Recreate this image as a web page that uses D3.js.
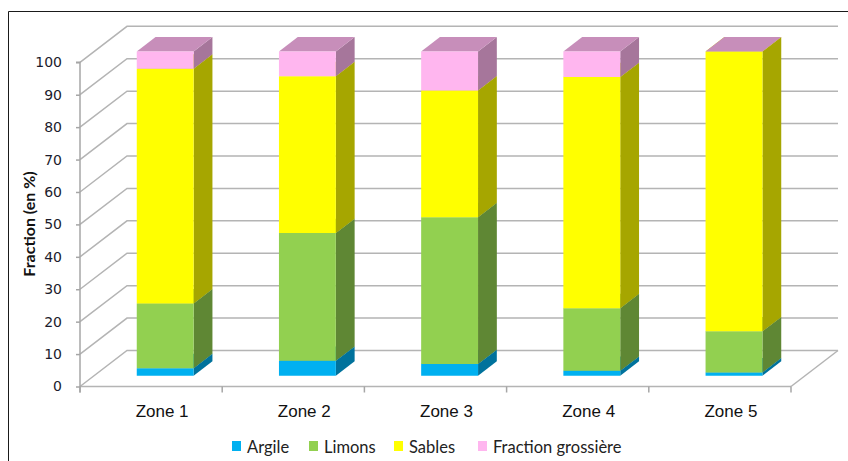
<!DOCTYPE html>
<html>
<head>
<meta charset="utf-8">
<script src="https://cdn.jsdelivr.net/npm/d3@7"></script>
<style>
  html, body { margin: 0; padding: 0; background: #fff; }
  svg { display: block; }
</style>
</head>
<body>
<svg id="chart" width="848" height="461"></svg>
<script>
// Granulometric fractions per zone (percent)
const categories = ["Zone 1", "Zone 2", "Zone 3", "Zone 4", "Zone 5"];
const argile    = [2.3, 4.6, 3.6, 1.5, 1.0];
const limons    = [20.0, 39.4, 45.3, 19.3, 12.7];
const sables    = [72.4, 48.4, 39.1, 71.3, 86.3];
const grossiere = [5.3, 7.6, 12.0, 7.9, 0];
const seriesNames = ["Argile", "Limons", "Sables", "Fraction grossière"];
const seriesColors = ["#00b0f0", "#92d050", "#ffff00", "#ffb6ef"];
const yTicks = d3.range(0, 101, 10);

const svg = d3.select("#chart");

// Oblique 3D projection: depth z in [0,1] shifts right and up
const DX = 47, DY = 36;
const x = d3.scaleBand().domain(categories).range([80, 791]).paddingInner(0).paddingOuter(0);
const y = d3.scaleLinear().domain([0, 100]).range([386.5, 62.3]);
const proj = (px, v, z) => [px + z * DX, y(v) - z * DY];
const poly = pts => "M" + pts.map(p => p.join(",")).join("L") + "Z";

// Frame
svg.append("path").attr("d", "M8.5,461V11.5H848").attr("fill", "none").attr("stroke", "#1a1a1a").attr("stroke-width", 1);

const grid = svg.append("g").attr("fill", "none").attr("stroke", "#b4b4b4").attr("stroke-width", 1.5);
const x0 = x.range()[0], x1 = x.range()[1];

// Side wall diagonals and back wall horizontals
yTicks.forEach(v => {
  const a = proj(x0, v, 0), b = proj(x0, v, 1), c = proj(x1, v, 1);
  grid.append("path").attr("d", `M${a}L${b}L${c}`);
});
// Floor edges
grid.append("path").attr("d", `M${proj(x1, 0, 0)}L${proj(x1, 0, 1)}`);
grid.append("path").attr("d", `M${proj(x0, 0, 0)}L${proj(x1, 0, 0)}`);

// Vertical axis
const yAxis = d3.axisLeft(y).tickValues(yTicks).tickSize(4).tickPadding(14);
const gy = svg.append("g").attr("transform", `translate(${x0},0)`).call(yAxis);
gy.select(".domain").attr("stroke", "#a6a6a6").attr("stroke-width", 1.5).attr("d", `M-4,${y(100)}H0V${y(0) + 6}`);
gy.selectAll(".tick line").attr("stroke", "#a6a6a6").attr("stroke-width", 1.5);
gy.selectAll(".tick text").attr("font-family", "DejaVu Sans, Verdana, sans-serif").attr("font-size", 14).attr("fill", "#1c1c2c");

// Category ticks and labels
const bounds = categories.map(c => x(c)).concat([x1]);
svg.append("g").selectAll("line").data(bounds).join("line")
  .attr("x1", d => d).attr("x2", d => d).attr("y1", y(0)).attr("y2", y(0) + 6)
  .attr("stroke", "#a6a6a6").attr("stroke-width", 1.5);
svg.append("g").selectAll("text").data(categories).join("text")
  .attr("x", d => x(d) + x.bandwidth() / 2 + 11).attr("y", 417)
  .attr("text-anchor", "middle").attr("font-family", "Liberation Sans, Arial, sans-serif")
  .attr("font-size", 17).attr("fill", "#111").text(d => d);

// Axis title
svg.append("text").attr("transform", "translate(35,224) rotate(-90)")
  .attr("text-anchor", "middle").attr("font-family", "Lato, Calibri, sans-serif")
  .attr("font-weight", "bold").attr("font-size", 16).attr("fill", "#111").text("Fraction (en %)");

// Stacked 3D columns
const table = categories.map((c, i) => ({
  zone: c, Argile: argile[i], Limons: limons[i], Sables: sables[i], "Fraction grossière": grossiere[i]
}));
const stacked = d3.stack().keys(seriesNames)(table);
const shade = (col, k) => { const c = d3.rgb(col); return d3.rgb(c.r * k, c.g * k, c.b * k).formatHex(); };
const z0 = 0.3, z1 = 0.7;
const bars = svg.append("g");
categories.forEach((cat, i) => {
  const cx = x(cat) + x.bandwidth() / 2;
  const bx0 = cx - x.bandwidth() * 0.2, bx1 = cx + x.bandwidth() * 0.2;
  const g = bars.append("g");
  stacked.forEach((s, si) => {
    const [v0, v1] = s[i];
    const col = seriesColors[si];
    g.append("path").attr("fill", shade(col, 0.65))
      .attr("d", poly([proj(bx1, v0, z0), proj(bx1, v0, z1), proj(bx1, v1, z1), proj(bx1, v1, z0)]));
    g.append("path").attr("fill", shade(col, 0.78))
      .attr("d", poly([proj(bx0, v1, z0), proj(bx1, v1, z0), proj(bx1, v1, z1), proj(bx0, v1, z1)]));
    g.append("path").attr("fill", col)
      .attr("d", poly([proj(bx0, v0, z0), proj(bx1, v0, z0), proj(bx1, v1, z0), proj(bx0, v1, z0)]));
  });
});

// Legend
const legendX = [232, 309, 394, 478];
const lg = svg.append("g");
seriesNames.forEach((n, i) => {
  lg.append("rect").attr("x", legendX[i]).attr("y", 441).attr("width", 9).attr("height", 10).attr("fill", seriesColors[i]);
  lg.append("text").attr("x", legendX[i] + 15).attr("y", 452.5).attr("font-family", "Lato, Calibri, sans-serif")
    .attr("font-size", 16.5).attr("fill", "#222").text(n);
});
</script>
</body>
</html>
